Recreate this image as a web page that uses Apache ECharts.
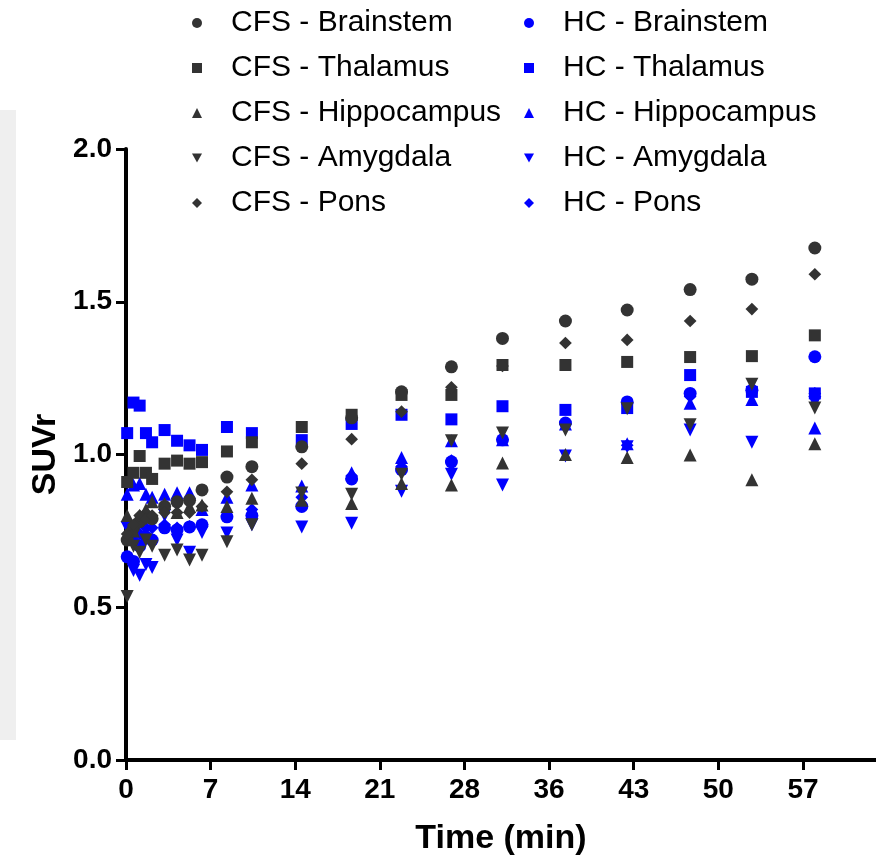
<!DOCTYPE html>
<html>
<head>
<meta charset="utf-8">
<script src="https://cdn.jsdelivr.net/npm/echarts@6/dist/echarts.min.js"></script>
<style>
  html, body { margin: 0; padding: 0; background: #fff; }
  #chart { width: 876px; height: 863px; }
</style>
</head>
<body>
<div id="chart"></div>
<script>
// time points (min)
var times = [0.1, 0.63, 1.15, 1.68, 2.2, 3.25, 4.3, 5.35, 6.4, 8.5, 10.6, 14.8, 19.0, 23.2, 27.4, 31.7, 37.0, 42.2, 47.5, 52.7, 58.0];

// CFS
var cfsBrainstem   = [0.72, 0.76, 0.78, 0.80, 0.79, 0.83, 0.845, 0.85, 0.884, 0.926, 0.96, 1.025, 1.12, 1.205, 1.287, 1.38, 1.437, 1.473, 1.54, 1.574, 1.676];
var cfsThalamus    = [0.91, 0.94, 0.995, 0.94, 0.92, 0.97, 0.98, 0.97, 0.975, 1.01, 1.04, 1.09, 1.13, 1.195, 1.195, 1.293, 1.293, 1.303, 1.319, 1.322, 1.39];
var cfsHippocampus = [0.80, 0.75, 0.80, 0.82, 0.845, 0.84, 0.81, 0.83, 0.835, 0.83, 0.857, 0.85, 0.84, 0.905, 0.90, 0.972, 1.0, 0.99, 0.998, 0.917, 1.035];
var cfsAmygdala    = [0.535, 0.70, 0.68, 0.72, 0.70, 0.67, 0.687, 0.655, 0.67, 0.714, 0.77, 0.874, 0.87, 0.935, 1.045, 1.07, 1.08, 1.15, 1.097, 1.23, 1.152];
var cfsPons        = [0.74, 0.77, 0.80, 0.79, 0.80, 0.81, 0.81, 0.81, 0.83, 0.878, 0.917, 0.97, 1.05, 1.14, 1.22, 1.29, 1.365, 1.375, 1.437, 1.476, 1.59];

// HC
var hcBrainstem    = [0.665, 0.65, 0.70, 0.73, 0.72, 0.76, 0.753, 0.763, 0.77, 0.796, 0.80, 0.83, 0.92, 0.95, 0.976, 1.048, 1.103, 1.172, 1.20, 1.21, 1.32];
var hcThalamus     = [1.07, 1.17, 1.16, 1.07, 1.04, 1.08, 1.045, 1.03, 1.015, 1.09, 1.07, 1.047, 1.10, 1.13, 1.115, 1.158, 1.146, 1.152, 1.26, 1.205, 1.20];
var hcHippocampus  = [0.87, 0.90, 0.905, 0.87, 0.86, 0.87, 0.875, 0.875, 0.82, 0.86, 0.90, 0.897, 0.94, 0.99, 1.045, 1.048, 1.10, 1.035, 1.168, 1.18, 1.087];
var hcAmygdala     = [0.76, 0.62, 0.605, 0.64, 0.63, 0.80, 0.72, 0.68, 0.745, 0.743, 0.77, 0.763, 0.775, 0.88, 0.935, 0.90, 0.995, 1.025, 1.08, 1.04, 1.17];
var hcPons         = [0.78, 0.72, 0.74, 0.76, 0.76, 0.77, 0.76, 0.765, 0.77, 0.80, 0.82, 0.86, 0.93, 0.96, 0.98, 1.05, 1.10, 1.03, 1.19, 1.21, 1.20];

var xTickValues = [0, 7.125, 14.25, 21.375, 28.5, 35.625, 42.75, 49.875, 57];
var xTickLabels = ['0', '7', '14', '21', '28', '36', '43', '50', '57'];

var regions = ['Brainstem', 'Thalamus', 'Hippocampus', 'Amygdala', 'Pons'];
var symbols = ['circle', 'rect', 'triangle', 'triangle', 'rect'];
var rotates = [0, 0, 0, 180, 45];
var sizes   = [13, 12, 13, 13, 9];
// legend icons (rotation is not taken over by the legend)
var legendIcons = ['circle', 'rect', 'triangle', 'path://M0,0L10,0L5,9Z', 'path://M5,0L10,5L5,10L0,5Z'];
var cfsData = [cfsBrainstem, cfsThalamus, cfsHippocampus, cfsAmygdala, cfsPons];
var hcData  = [hcBrainstem, hcThalamus, hcHippocampus, hcAmygdala, hcPons];

var FONT = "'Liberation Sans', Arial, sans-serif";
var DARK = '#333333';
var BLUE = '#0000ff';

function pairs(vals){
    var out = [];
    for (var i = 0; i < times.length; i++) out.push([times[i], vals[i]]);
    return out;
}

var series = [];
var cfsLegend = [], hcLegend = [];
for (var i = 0; i < regions.length; i++){
    var hn = 'HC - ' + regions[i];
    hcLegend.push({name: hn, icon: legendIcons[i]});
    series.push({
        name: hn, type: 'scatter', z: 2,
        symbol: symbols[i], symbolRotate: rotates[i], symbolSize: sizes[i],
        itemStyle: {color: BLUE, opacity: 1},
        data: pairs(hcData[i])
    });
}
for (var i = 0; i < regions.length; i++){
    var cn = 'CFS - ' + regions[i];
    cfsLegend.push({name: cn, icon: legendIcons[i]});
    series.push({
        name: cn, type: 'scatter', z: 3,
        symbol: symbols[i], symbolRotate: rotates[i], symbolSize: sizes[i],
        itemStyle: {color: DARK, opacity: 1},
        data: pairs(cfsData[i])
    });
}

var legendText = {fontFamily: FONT, fontSize: 30, color: '#000', lineHeight: 30, padding: [0, 0, 0, 24]};

var chart = echarts.init(document.getElementById('chart'), null, {renderer: 'canvas'});
chart.setOption({
    animation: false,
    backgroundColor: '#fff',
    graphic: [{
        type: 'rect', z: -10,
        shape: {x: 0, y: 110, width: 16, height: 630},
        style: {fill: '#efefef'}
    }],
    legend: [{
        data: cfsLegend, orient: 'vertical', left: 187, top: 3,
        itemGap: 15, itemWidth: 10, itemHeight: 10,
        selectedMode: false, textStyle: legendText
    }, {
        data: hcLegend, orient: 'vertical', left: 519, top: 3,
        itemGap: 15, itemWidth: 10, itemHeight: 10,
        selectedMode: false, textStyle: legendText
    }],
    grid: {left: 126, right: 0, top: 149, bottom: 103},
    xAxis: {
        type: 'value', min: 0, max: 63.15,
        name: 'Time (min)', nameLocation: 'middle', nameGap: 62,
        nameTextStyle: {fontFamily: FONT, fontSize: 34, fontWeight: 'bold', color: '#000'},
        axisLine: {lineStyle: {color: '#000', width: 4}},
        axisTick: {show: true, length: 10, lineStyle: {color: '#000', width: 3}, customValues: xTickValues},
        axisLabel: {
            fontFamily: FONT, fontSize: 28, fontWeight: 'bold', color: '#000', margin: 16,
            customValues: xTickValues,
            formatter: function(v){ return xTickLabels[Math.round(v / 7.125)]; }
        },
        splitLine: {show: false}
    },
    yAxis: {
        type: 'value', min: 0, max: 2, interval: 0.5,
        name: 'SUVr', nameLocation: 'middle', nameGap: 60,
        nameTextStyle: {fontFamily: FONT, fontSize: 34, fontWeight: 'bold', color: '#000'},
        axisLine: {show: true, lineStyle: {color: '#000', width: 4}},
        axisTick: {show: true, length: 10, lineStyle: {color: '#000', width: 3}},
        axisLabel: {
            fontFamily: FONT, fontSize: 28, fontWeight: 'bold', color: '#000', margin: 14,
            formatter: function(v){ return v.toFixed(1); }
        },
        splitLine: {show: false}
    },
    series: series
});
</script>
</body>
</html>
